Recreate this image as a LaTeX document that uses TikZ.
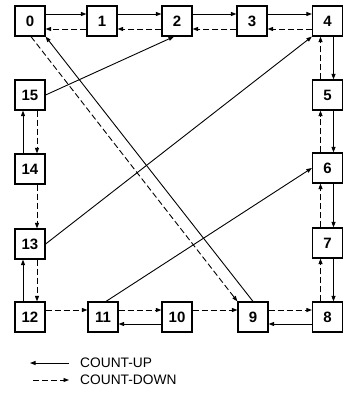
\documentclass[tikz,border=0pt]{standalone}
\usepackage{fontspec}
\setmainfont{Liberation Sans}
\usetikzlibrary{arrows.meta}
\begin{document}
\begin{tikzpicture}[x=1pt,y=-1pt,
  box/.style={draw,line width=1.2pt,minimum width=30pt,minimum height=30pt,inner sep=0pt,font=\fontsize{15}{15}\selectfont\bfseries},
  up/.style={line width=0.9pt,-{Triangle[length=5.5pt,width=4pt]}},
  dn/.style={up,dash pattern=on 6pt off 3pt},
  lab/.style={anchor=west,inner sep=0pt,font=\fontsize{13.75}{13.75}\selectfont}]
\useasboundingbox (0,0) rectangle (343,393);
% top row
\node[box] (n0) at (30,21) {0};
\node[box] (n1) at (102,21) {1};
\node[box] (n2) at (177,21) {2};
\node[box] (n3) at (252,21) {3};
\node[box] (n4) at (327.5,21) {4};
% right column
\node[box] (n5) at (327.5,95) {5};
\node[box] (n6) at (327.5,168) {6};
\node[box] (n7) at (327.5,243) {7};
% bottom row
\node[box] (n8) at (327.5,317) {8};
\node[box] (n9) at (253,317) {9};
\node[box] (n10) at (177,317) {10};
\node[box] (n11) at (103,317) {11};
\node[box] (n12) at (30,317) {12};
% left column
\node[box] (n13) at (30,244) {13};
\node[box] (n14) at (30,169) {14};
\node[box] (n15) at (30,95) {15};
% top row connections
\foreach \a/\b in {n0/n1,n1/n2,n2/n3,n3/n4}{
  \draw[up] ([yshift=7pt]\a.east) -- ([yshift=7pt]\b.west);
  \draw[dn] ([yshift=-8pt]\b.west) -- ([yshift=-8pt]\a.east);
}
% right column
\foreach \a/\b in {n4/n5,n5/n6,n6/n7,n7/n8}{
  \draw[up] ([xshift=6pt]\a.south) -- ([xshift=6pt]\b.north);
  \draw[dn] ([xshift=-7pt]\b.north) -- ([xshift=-7pt]\a.south);
}
% bottom row
\foreach \a/\b in {n8/n9,n10/n11}{
  \draw[up] ([yshift=-7pt]\a.west) -- ([yshift=-7pt]\b.east);
}
\foreach \a/\b in {n9/n8,n10/n9,n11/n10,n12/n11}{
  \draw[dn] ([yshift=7pt]\a.east) -- ([yshift=7pt]\b.west);
}
% left column
\foreach \a/\b in {n12/n13,n14/n15}{
  \draw[up] ([xshift=-7pt]\a.north) -- ([xshift=-7pt]\b.south);
}
\foreach \a/\b in {n15/n14,n14/n13,n13/n12}{
  \draw[dn] ([xshift=7pt]\a.south) -- ([xshift=7pt]\b.north);
}
% diagonals
\draw[up] (n15.east) -- ([xshift=-3pt]n2.south);
\draw[up] (n13.east) -- (n4.south west);
\draw[up] ([xshift=3pt]n11.north) -- (n6.west);
\draw[up] (n9.north) -- (n0.south east);
\draw[dn] ([xshift=1pt]n0.south) -- (n9.north west);
% legend
\coordinate (la) at (30,363);
\coordinate (lb) at (69,363);
\coordinate (lc) at (33,380);
\coordinate (ld) at (69,380);
\draw[up] (lb) -- (la);
\draw[dn] (lc) -- (ld);
\node[lab] (tu) at (80,363) {COUNT-UP};
\node[lab] (td) at (80,380) {COUNT-DOWN};
\end{tikzpicture}
\end{document}
